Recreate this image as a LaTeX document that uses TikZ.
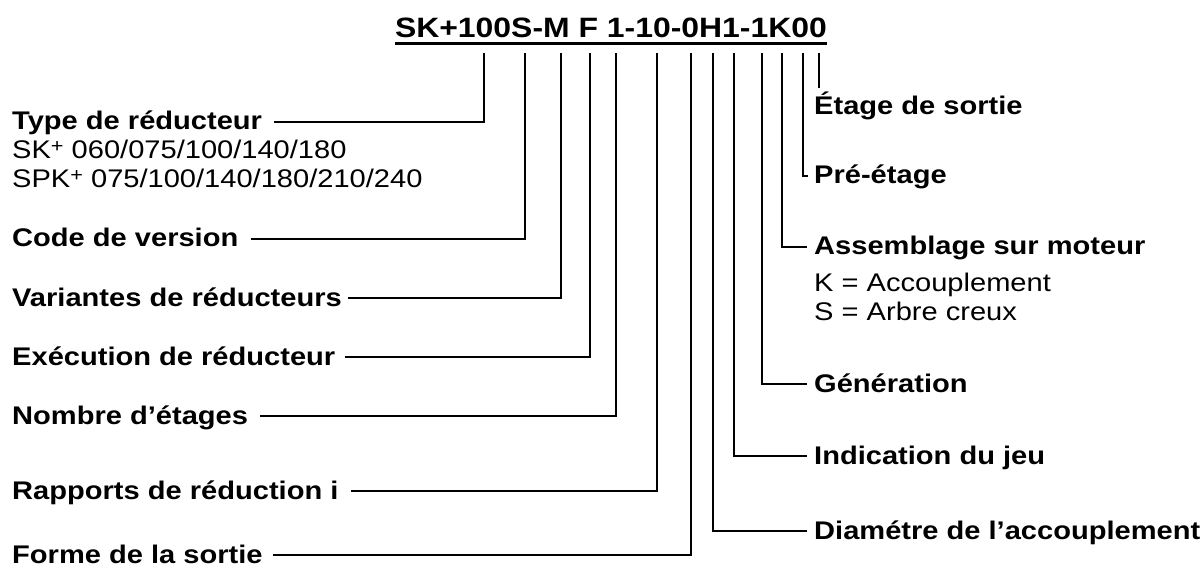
\documentclass[tikz,border=0pt]{standalone}
\usepackage{fontspec}
\setmainfont{Liberation Sans}[FakeStretch=1.14]
\newcommand\supplus{\raisebox{6.5pt}{\fontsize{19}{19}\selectfont+}}
\begin{document}
\begin{tikzpicture}[x=1pt,y=-1pt,
  lab/.style={font=\bfseries\fontsize{25.5}{29}\selectfont, inner sep=0pt, text height=16pt, text depth=0pt},
  sub/.style={font=\fontsize{25.5}{29}\selectfont, inner sep=0pt, anchor=base west},
  conn/.style={line width=2.5pt, line join=miter},
  ]
\useasboundingbox (0,0) rectangle (1203,572);
% title
\node[font=\bfseries\fontsize{28}{32}\selectfont, inner sep=0pt, text depth=0pt, anchor=base] (title) at (611,38) {SK+100S-M F 1-10-0H1-1K00};
\draw[line width=2.8pt] ([yshift=-5pt]title.south west) -- ([yshift=-5pt]title.south east);
% tick tops
\foreach \n/\x in {t1/484,t2/525,t3/561,t4/590,t5/616,t6/657,t7/691,t8/713,t9/734,t10/762,t11/782,t12/803,t13/819}
  \coordinate (\n) at (\x,53);
% left labels
\node[lab, anchor=west] (type) at (12,122) {Type de réducteur};
\node[sub] (sk) at (12,159) {SK\supplus{} 060/075/100/140/180};
\node[sub] (spk) at (12,188) {SPK\supplus{} 075/100/140/180/210/240};
\node[lab, anchor=west] (code) at (12,239) {Code de version};
\node[lab, anchor=west] (var) at (12,298) {Variantes de réducteurs};
\node[lab, anchor=west] (exe) at (12,357) {Exécution de réducteur};
\node[lab, anchor=west] (nomb) at (12,416) {Nombre d’étages};
\node[lab, anchor=west] (rap) at (12,491) {Rapports de réduction i};
\node[lab, anchor=west] (forme) at (12,555) {Forme de la sortie};
% right labels
\node[lab, anchor=west] (etage) at (814,107) {Étage de sortie};
\node[lab, anchor=west] (pre) at (814,176) {Pré-étage};
\node[lab, anchor=west] (asm) at (814,247) {Assemblage sur moteur};
\node[sub] (kacc) at (814,291) {K = Accouplement};
\node[sub] (sarb) at (814,320) {S = Arbre creux};
\node[lab, anchor=west] (gen) at (814,384) {Génération};
\node[lab, anchor=west] (ind) at (814,456) {Indication du jeu};
\node[lab, anchor=west] (diam) at (814,531) {Diamétre de l’accouplement};
% connectors left
\draw[conn, shorten >=12pt] (t1) |- (type.east);
\draw[conn, shorten >=12pt] (t2) |- (code.east);
\draw[conn, shorten >=6pt] (t3) |- (var.east);
\draw[conn, shorten >=10pt] (t4) |- (exe.east);
\draw[conn, shorten >=12pt] (t5) |- (nomb.east);
\draw[conn, shorten >=12pt] (t6) |- (rap.east);
\draw[conn, shorten >=10pt] (t7) |- (forme.east);
% connectors right
\draw[conn, shorten >=7pt] (t8) |- (diam.west);
\draw[conn, shorten >=7pt] (t9) |- (ind.west);
\draw[conn, shorten >=7pt] (t10) |- (gen.west);
\draw[conn, shorten >=7pt] (t11) |- (asm.west);
\draw[conn, shorten >=6pt] (t12) |- (pre.west);
\draw[conn, shorten >=11pt] (t13) -- (t13 |- etage.north);
\end{tikzpicture}
\end{document}
